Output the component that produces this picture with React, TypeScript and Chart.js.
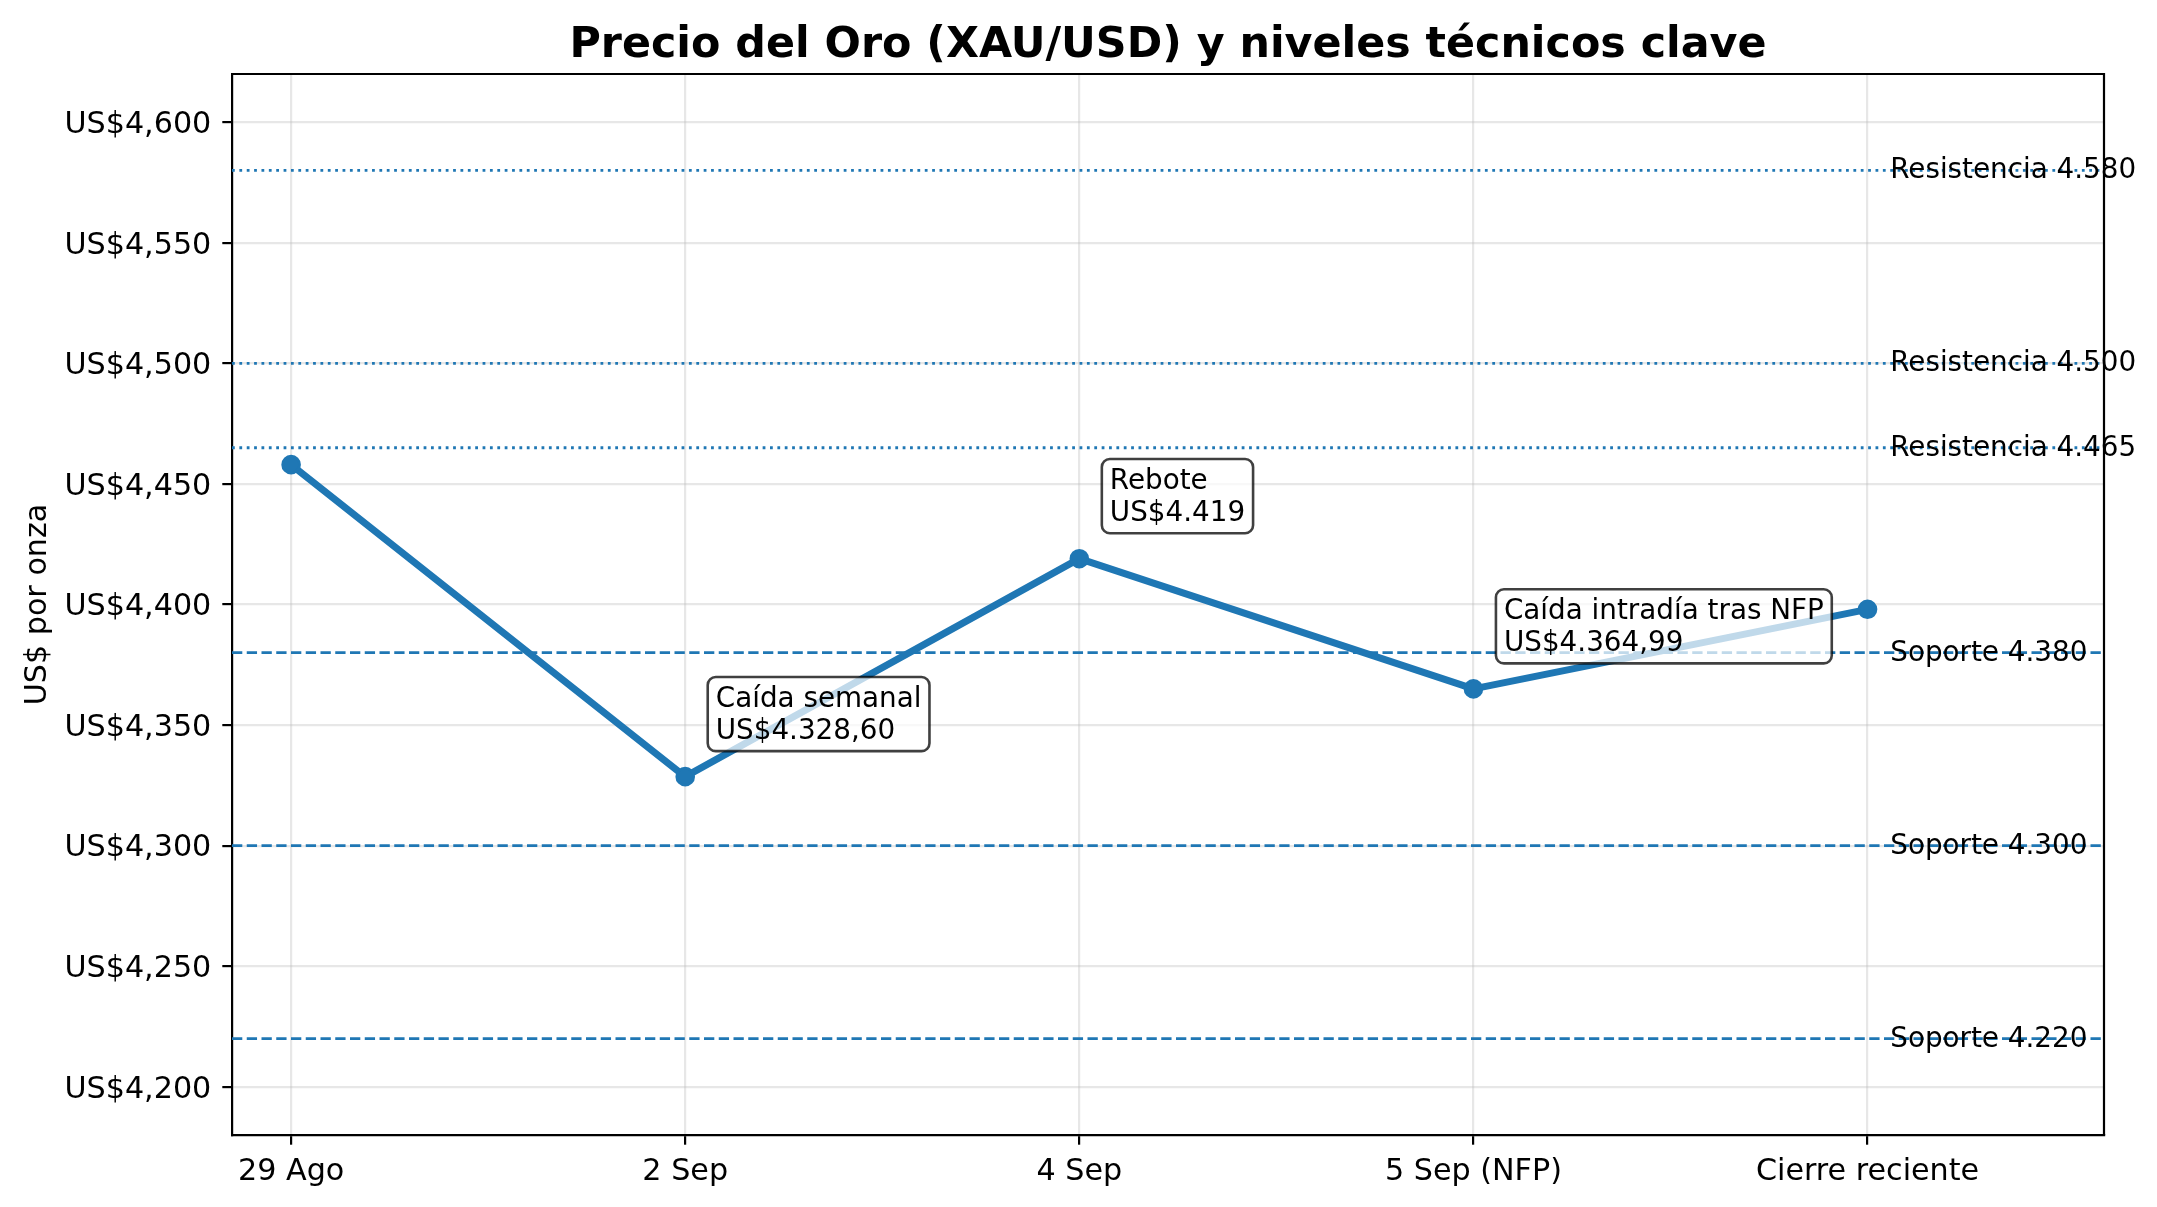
import React, { useEffect, useRef } from 'react';
import { Chart, registerables } from 'chart.js';

Chart.register(...registerables);

// ---- data ----
const categories = ['29 Ago', '2 Sep', '4 Sep', '5 Sep (NFP)', 'Cierre reciente'];
const prices = [4458, 4328.6, 4419, 4364.99, 4398];
const resistanceLevels = [4580, 4500, 4465];
const supportLevels = [4380, 4300, 4220];
const yTickValues = [4200, 4250, 4300, 4350, 4400, 4450, 4500, 4550, 4600];
const noteIndices = [1, 2, 3];
const noteTitles = ['Caída semanal', 'Rebote', 'Caída intradía tras NFP'];
const noteValues = ['US$4.328,60', 'US$4.419', 'US$4.364,99'];
const titleText = 'Precio del Oro (XAU/USD) y niveles técnicos clave';
const yAxisLabel = 'US$ por onza';

// ---- style ----
const W = 2157;
const H = 1207;
const FONT = '"DejaVu Sans", sans-serif';
const BLUE = '#1f77b4';
const FS = 27.8;
const TICK_FS = 30.2;
const GRID = 'rgba(176,176,176,0.3)';

const thousands = (v: number, sep: string) => {
  const t = Math.floor(v / 1000);
  const r = Math.round(v % 1000);
  return `${t}${sep}${String(r).padStart(3, '0')}`;
};

const overlay = {
  id: 'overlay',
  beforeDatasetsDraw(chart: any) {
    const { ctx, chartArea: a, scales } = chart;
    const y = scales.y;
    ctx.save();
    ctx.strokeStyle = BLUE;
    ctx.lineWidth = 2.78;
    ctx.lineCap = 'butt';
    const drawLevel = (v: number, dash: number[]) => {
      const py = y.getPixelForValue(v);
      ctx.setLineDash(dash);
      ctx.beginPath();
      ctx.moveTo(a.left, py);
      ctx.lineTo(a.right, py);
      ctx.stroke();
    };
    resistanceLevels.forEach((v) => drawLevel(v, [2.78, 4.59]));
    supportLevels.forEach((v) => drawLevel(v, [10.3, 4.45]));
    ctx.restore();
  },
  afterDatasetsDraw(chart: any) {
    const { ctx, scales } = chart;
    const x = scales.x;
    const y = scales.y;
    ctx.save();
    ctx.font = `${FS}px ${FONT}`;
    ctx.fillStyle = '#000';
    ctx.textAlign = 'left';
    ctx.textBaseline = 'alphabetic';
    const lx = x.getPixelForValue(categories.length - 1 + 0.05) + 3;
    resistanceLevels.forEach((v) => {
      ctx.fillText(`Resistencia ${thousands(v, '.')}`, lx, y.getPixelForValue(v) + 8);
    });
    supportLevels.forEach((v) => {
      ctx.fillText(`Soporte ${thousands(v, '.')}`, lx, y.getPixelForValue(v) + 8);
    });

    // annotations
    noteIndices.forEach((idx, k) => {
      const px = x.getPixelForValue(idx);
      const py = y.getPixelForValue(prices[idx]);
      const tx = px + 30.5;
      const b2 = py - 37.5;
      const b1 = b2 - 32.5;
      const w = Math.max(ctx.measureText(noteTitles[k]).width, ctx.measureText(noteValues[k]).width);
      const left = tx - 8;
      const right = tx + w + 8;
      const top = b1 - 29.7;
      const bottom = b2 + 12;
      ctx.beginPath();
      (ctx as any).roundRect(left, top, right - left, bottom - top, 8);
      ctx.fillStyle = 'rgba(255,255,255,0.72)';
      ctx.fill();
      ctx.lineWidth = 2.6;
      ctx.strokeStyle = 'rgba(0,0,0,0.75)';
      ctx.stroke();
      ctx.fillStyle = '#000';
      ctx.fillText(noteTitles[k], tx, b1);
      ctx.fillText(noteValues[k], tx, b2);
    });
    ctx.restore();
  },
  afterDraw(chart: any) {
    const { ctx, chartArea: a } = chart;
    ctx.save();
    // top and right spines
    ctx.strokeStyle = '#000';
    ctx.lineWidth = 2.2;
    ctx.setLineDash([]);
    ctx.beginPath();
    ctx.moveTo(a.left, a.top);
    ctx.lineTo(a.right, a.top);
    ctx.lineTo(a.right, a.bottom);
    ctx.stroke();
    // title
    ctx.fillStyle = '#000';
    ctx.font = `bold 42.8px ${FONT}`;
    ctx.textAlign = 'center';
    ctx.textBaseline = 'alphabetic';
    ctx.fillText(titleText, (a.left + a.right) / 2, 57);
    // y label
    ctx.font = `${TICK_FS}px ${FONT}`;
    ctx.translate(45.5, (a.top + a.bottom) / 2);
    ctx.rotate(-Math.PI / 2);
    ctx.fillText(yAxisLabel, 0, 0);
    ctx.restore();
  },
};

export default function App() {
  const ref = useRef<HTMLCanvasElement | null>(null);

  useEffect(() => {
    document.body.style.margin = '0';
    document.body.style.overflow = 'hidden';
    const canvas = ref.current;
    if (!canvas) return;
    const chart = new Chart(canvas, {
      type: 'line',
      data: {
        datasets: [
          {
            data: prices.map((v, i) => ({ x: i, y: v })),
            borderColor: BLUE,
            backgroundColor: BLUE,
            borderWidth: 7,
            borderJoinStyle: 'round',
            pointRadius: 8.5,
            pointBorderWidth: 2.6,
            pointBackgroundColor: BLUE,
            pointBorderColor: BLUE,
            pointHoverRadius: 8.5,
            tension: 0,
            fill: false,
          },
        ],
      },
      options: {
        responsive: false,
        animation: false,
        devicePixelRatio: 1,
        events: [],
        layout: { padding: { left: 0, right: W - 2104, top: 74, bottom: 0 } },
        plugins: {
          legend: { display: false },
          tooltip: { enabled: false },
          title: { display: false },
        },
        scales: {
          x: {
            type: 'linear',
            min: -0.15,
            max: 4.6,
            afterBuildTicks: (scale: any) => {
              scale.ticks = categories.map((_, i) => ({ value: i }));
            },
            afterFit: (scale: any) => {
              scale.height = H - 1135;
            },
            ticks: {
              autoSkip: false,
              maxRotation: 0,
              minRotation: 0,
              padding: 9,
              color: '#000',
              font: { family: FONT, size: TICK_FS },
              callback: (v: any) => categories[Math.round(Number(v))] ?? '',
            },
            grid: {
              color: GRID,
              lineWidth: 2.2,
              tickColor: '#000',
              tickLength: 9.7,
              tickWidth: 2.2,
            },
            border: { display: true, color: '#000', width: 2.2 },
          },
          y: {
            type: 'linear',
            min: 4180,
            max: 4620,
            afterBuildTicks: (scale: any) => {
              scale.ticks = yTickValues.map((v) => ({ value: v }));
            },
            afterFit: (scale: any) => {
              scale.width = 232;
            },
            ticks: {
              padding: 11,
              labelOffset: 3,
              color: '#000',
              font: { family: FONT, size: TICK_FS },
              callback: (v: any) => `US$${thousands(Number(v), ',')}`,
            },
            grid: {
              color: GRID,
              lineWidth: 2.2,
              tickColor: '#000',
              tickLength: 9.7,
              tickWidth: 2.2,
            },
            border: { display: true, color: '#000', width: 2.2 },
          },
        },
      },
      plugins: [overlay],
    } as any);
    return () => chart.destroy();
  }, []);

  return (
    <canvas
      ref={ref}
      width={W}
      height={H}
      style={{ display: 'block', width: W, height: H }}
    />
  );
}
